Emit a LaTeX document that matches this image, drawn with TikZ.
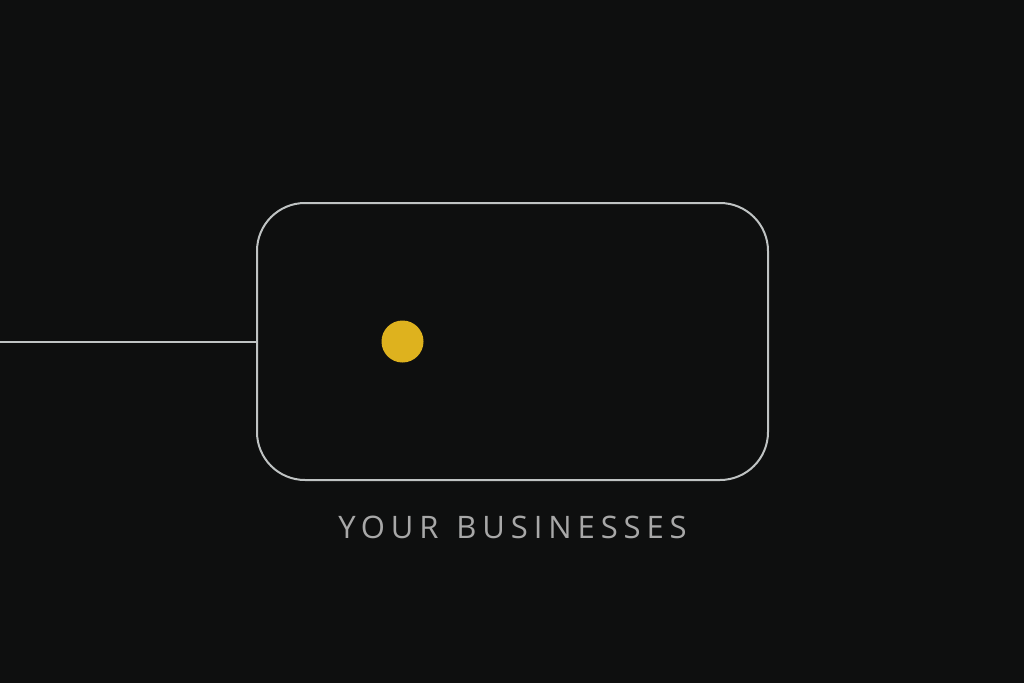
\documentclass[tikz,border=0pt]{standalone}
\usepackage{fontspec}
\setmainfont{Open Sans}
\usetikzlibrary{positioning}
\definecolor{bgdark}{HTML}{0E0F0F}
\definecolor{framegray}{HTML}{BFC3C3}
\definecolor{dotyellow}{HTML}{DEB21E}
\definecolor{labelgray}{HTML}{A8A8A8}
\tikzset{
  frame/.style={draw=framegray, line width=2pt, rounded corners=48pt},
  wire/.style={draw=framegray, line width=2pt},
  caption/.style={text=labelgray, font=\fontsize{31}{31}\selectfont\addfontfeature{LetterSpace=19}}
}
\begin{document}
\begin{tikzpicture}[x=1pt,y=-1pt]
% background
\fill[bgdark] (0,0) rectangle (1024,683);
\useasboundingbox (0,0) rectangle (1024,683);
% card
\node[frame, minimum width=511pt, minimum height=277pt, inner sep=0pt] (card) at (512.5,341.5) {};
% wire into the card
\coordinate (W) at (0,341.5);
\draw[wire] (W) -- (W -| card.west);
% dot
\fill[dotyellow] (402.5,341.5) circle [radius=21pt];
% label
\node[caption, below=31pt of card.south, anchor=north] (label) {YOUR\hspace{4pt} BUSINESSES};
\end{tikzpicture}
\end{document}
